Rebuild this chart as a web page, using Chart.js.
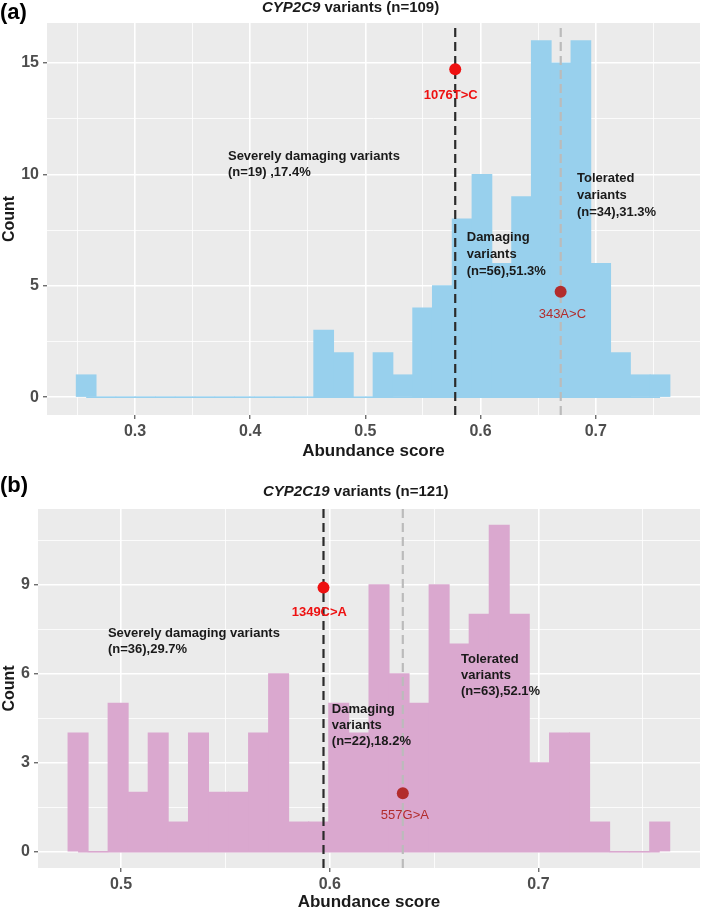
<!DOCTYPE html>
<html><head><meta charset="utf-8">
<script src="https://cdn.jsdelivr.net/npm/chart.js@4.4.1/dist/chart.umd.min.js"></script>
<style>
html,body{margin:0;padding:0;background:#fff;}
#wrap{position:relative;width:709px;height:920px;overflow:hidden;}
.panel{position:absolute;left:0;width:709px;}
</style></head><body>
<div id="wrap">
<div class="panel" style="top:0;height:463px"><canvas id="ca"></canvas></div>
<div class="panel" style="top:463px;height:457px"><canvas id="cb"></canvas></div>
</div>
<script>
// ---------- Panel (a): CYP2C9 ----------
const binCentersA = [0.2576,0.2748,0.2920,0.3091,0.3263,0.3435,0.3607,0.3779,0.3950,0.4122,
                     0.4294,0.4466,0.4638,0.4809,0.4981,0.5153,0.5325,0.5497,0.5668,0.5840,
                     0.6012,0.6184,0.6356,0.6527,0.6699,0.6871,0.7043,0.7215,0.7386,0.7558];
const countsA = [1,0,0,0,0,0,0,0,0,0, 0,0,3,2,0,2,1,4,5,8, 10,6,9,16,15,16,6,2,1,1];
const xTicksA = [0.25,0.3,0.35,0.4,0.45,0.5,0.55,0.6,0.65,0.7,0.75];
const xLabelsA = ['0.3','0.4','0.5','0.6','0.7'];
const yTicksA = [0,2.5,5,7.5,10,12.5,15];
const yLabelsA = ['0','5','10','15'];
const thresholdsA = [0.578, 0.6696];           // damaging / tolerated cut-offs
const variantA1 = {name:'1076T>C', x:0.578, y:14.72};
const variantA2 = {name:'343A>C', x:0.6695, y:4.73};

// ---------- Panel (b): CYP2C19 ----------
const binCentersB = [0.4794,0.4890,0.4986,0.5082,0.5178,0.5275,0.5371,0.5467,0.5563,0.5659,
                     0.5755,0.5851,0.5947,0.6043,0.6140,0.6236,0.6332,0.6428,0.6524,0.6620,
                     0.6716,0.6812,0.6908,0.7004,0.7101,0.7197,0.7293,0.7389,0.7485,0.7581];
const countsB = [4,0,5,2,4,1,4,2,2,4, 6,1,1,5,4,9,6,5,9,7, 8,11,8,3,4,4,1,0,0,1];
const xTicksB = [0.5,0.55,0.6,0.65,0.7,0.75];
const xLabelsB = ['0.5','0.6','0.7'];
const yTicksB = [0,1.5,3,4.5,6,7.5,9,10.5];
const yLabelsB = ['0','3','6','9'];
const thresholdsB = [0.597, 0.635];
const variantB1 = {name:'1349C>A', x:0.597, y:8.90};
const variantB2 = {name:'557G>A', x:0.635, y:1.97};

const FONT = '"Liberation Sans", Arial, Helvetica, sans-serif';

function buildChart(id, p) {
  const isMajor = (v, labels) => labels.includes(String(v));
  const bgPlugin = {
    id: 'panelBg',
    beforeDraw(chart) {
      const a = chart.chartArea, c = chart.ctx;
      c.save(); c.fillStyle = '#EBEBEB';
      c.fillRect(a.left, a.top, a.right - a.left, a.bottom - a.top);
      c.restore();
    }
  };
  const notePlugin = {
    id: 'notes',
    afterDatasetsDraw(chart) {
      const c = chart.ctx, xs = chart.scales.x, ys = chart.scales.y;
      c.save();
      c.textBaseline = 'middle';
      p.notes.forEach(n => {
        c.font = (n.weight || 'bold') + ' 13px ' + FONT;
        c.fillStyle = n.color || '#1a1a1a';
        c.textAlign = n.align || 'left';
        const x = xs.getPixelForValue(n.x), y = ys.getPixelForValue(n.y);
        n.lines.forEach((t, i) => c.fillText(t, x, y + i * p.noteLH));
      });
      c.restore();
    },
    afterDraw(chart) {
      const c = chart.ctx;
      c.save();
      c.textBaseline = 'middle'; c.textAlign = 'left'; c.fillStyle = '#000';
      c.font = 'bold 22px ' + FONT;
      c.fillText(p.panelLabel, 0, p.panelLabelY);
      c.fillStyle = '#1a1a1a';
      c.font = 'italic bold 15px ' + FONT;
      c.fillText(p.titleItalic, p.titleX, p.titleY);
      const w = c.measureText(p.titleItalic).width;
      c.font = 'bold 15px ' + FONT;
      c.fillText(p.titleRest, p.titleX + w, p.titleY);
      c.restore();
    }
  };
  const vline = (x, color) => ({
    type: 'line', data: [{x: x, y: p.yMin}, {x: x, y: p.yMax}],
    borderColor: color, borderWidth: 2.2, borderDash: [9, 5],
    pointRadius: 0, fill: false, order: 3
  });
  const dot = (v, color) => ({
    type: 'line', data: [{x: v.x, y: v.y}], showLine: false,
    pointRadius: 6, pointBackgroundColor: color, pointBorderColor: color,
    pointBorderWidth: 0, order: 1
  });
  return new Chart(document.getElementById(id), {
    type: 'bar',
    data: {
      datasets: [
        { type: 'line', data: p.centers.map(c => ({x: c, y: 0})),
          borderColor: p.barColor, borderWidth: 1.5, pointRadius: 0, order: 5 },
        { type: 'bar', data: p.centers.map((c, i) => ({x: c, y: p.counts[i]})),
          backgroundColor: p.barColor, borderWidth: 0, barPercentage: 1,
          categoryPercentage: 1, inflateAmount: 0.5, order: 4 },
        vline(p.thr[0], '#2B2B2B'),
        vline(p.thr[1], '#BBBBBB'),
        dot(p.v1, '#EE1111'),
        dot(p.v2, '#B22C2C')
      ]
    },
    options: {
      responsive: true, maintainAspectRatio: false, animation: false, events: [],
      layout: {padding: {left: 0, right: 9, top: p.padTop, bottom: 0}},
      plugins: {legend: {display: false}, tooltip: {enabled: false}, title: {display: false}},
      scales: {
        x: {
          type: 'linear', min: p.xMin, max: p.xMax, offset: false,
          afterFit: s => { s.height = p.xAxisHeight; },
          afterBuildTicks: s => { s.ticks = p.xTicks.map(v => ({value: v})); },
          border: {display: false},
          grid: {
            offset: false, color: '#FFFFFF',
            lineWidth: ctx => (ctx.tick && isMajor(ctx.tick.value, p.xLabels)) ? 1.6 : 0.8,
            tickColor: ctx => (ctx.tick && isMajor(ctx.tick.value, p.xLabels)) ? '#333333' : 'rgba(0,0,0,0)',
            tickLength: 4, tickWidth: 1
          },
          ticks: {
            autoSkip: false, maxRotation: 0, padding: 3, color: '#4D4D4D',
            font: {family: FONT, size: 16, weight: 'bold'},
            callback: v => isMajor(v, p.xLabels) ? String(v) : ''
          },
          title: {display: true, text: 'Abundance score', color: '#1a1a1a',
                  font: {family: FONT, size: 17, weight: 'bold'},
                  padding: {top: 0, bottom: p.xTitlePad}}
        },
        y: {
          type: 'linear', min: p.yMin, max: p.yMax,
          afterFit: s => { s.width = p.yAxisWidth; },
          afterBuildTicks: s => { s.ticks = p.yTicks.map(v => ({value: v})); },
          border: {display: false},
          grid: {
            color: '#FFFFFF',
            lineWidth: ctx => (ctx.tick && isMajor(ctx.tick.value, p.yLabels)) ? 1.6 : 0.8,
            tickColor: ctx => (ctx.tick && isMajor(ctx.tick.value, p.yLabels)) ? '#333333' : 'rgba(0,0,0,0)',
            tickLength: 4, tickWidth: 1
          },
          ticks: {
            autoSkip: false, padding: 4, color: '#4D4D4D',
            font: {family: FONT, size: 16, weight: 'bold'},
            callback: v => isMajor(v, p.yLabels) ? String(v) : ''
          },
          title: {display: true, text: 'Count', color: '#1a1a1a',
                  font: {family: FONT, size: 16, weight: 'bold'},
                  padding: {top: 0, bottom: 0}}
        }
      }
    },
    plugins: [bgPlugin, notePlugin]
  });
}

buildChart('ca', {
  centers: binCentersA, counts: countsA, barColor: '#98D0ED',
  xMin: 0.2236, xMax: 0.7905, yMin: -0.8, yMax: 16.8,
  xTicks: xTicksA, xLabels: xLabelsA, yTicks: yTicksA, yLabels: yLabelsA,
  thr: thresholdsA, v1: variantA1, v2: variantA2,
  padTop: 23, xAxisHeight: 48, yAxisWidth: 47, xTitlePad: 1,
  panelLabel: '(a)', panelLabelY: 13,
  titleItalic: 'CYP2C9', titleRest: ' variants (n=109)', titleX: 262, titleY: 8,
  noteLH: 16.8,
  notes: [
    {x: 0.3807, y: 10.83, lines: ['Severely damaging variants', '(n=19) ,17.4%']},
    {x: 0.5880, y: 7.17, lines: ['Damaging', 'variants', '(n=56),51.3%']},
    {x: 0.6837, y: 9.82, lines: ['Tolerated', 'variants', '(n=34),31.3%']},
    {x: 0.5741, y: 13.57, lines: [variantA1.name], color: '#EE1111', align: 'center'},
    {x: 0.6710, y: 3.70, lines: [variantA2.name], color: '#B22C2C', align: 'center', weight: 'normal'}
  ]
});

buildChart('cb', {
  centers: binCentersB, counts: countsB, barColor: '#DAA8CF',
  xMin: 0.4602, xMax: 0.7774, yMin: -0.55, yMax: 11.55,
  xTicks: xTicksB, xLabels: xLabelsB, yTicks: yTicksB, yLabels: yLabelsB,
  thr: thresholdsB, v1: variantB1, v2: variantB2,
  padTop: 46, xAxisHeight: 52, yAxisWidth: 38, xTitlePad: 7,
  panelLabel: '(b)', panelLabelY: 23,
  titleItalic: 'CYP2C19', titleRest: ' variants (n=121)', titleX: 263, titleY: 29,
  noteLH: 16,
  notes: [
    {x: 0.4937, y: 7.36, lines: ['Severely damaging variants', '(n=36),29.7%']},
    {x: 0.6010, y: 4.81, lines: ['Damaging', 'variants', '(n=22),18.2%']},
    {x: 0.6629, y: 6.47, lines: ['Tolerated', 'variants', '(n=63),52.1%']},
    {x: 0.5950, y: 8.06, lines: [variantB1.name], color: '#EE1111', align: 'center'},
    {x: 0.6360, y: 1.22, lines: [variantB2.name], color: '#B22C2C', align: 'center', weight: 'normal'}
  ]
});
</script>
</body></html>
